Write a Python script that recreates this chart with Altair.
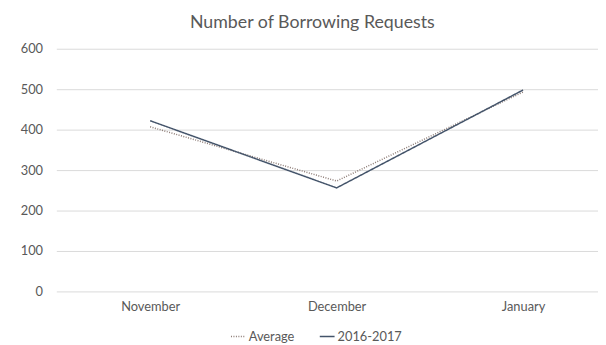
import altair as alt
import pandas as pd

months = ["November", "December", "January"]
series_names = ["Average", "2016-2017"]
average = [407, 273, 493]
season_2016_2017 = [422, 256, 498]
y_ticks = [0, 100, 200, 300, 400, 500, 600]

rows = []
for m, v in zip(months, average):
    rows.append({"month": m, "series": "Average", "value": v})
for m, v in zip(months, season_2016_2017):
    rows.append({"month": m, "series": "2016-2017", "value": v})
df = pd.DataFrame(rows)

FONT = "Lato"
TXT = "#595959"

chart = alt.Chart(df).mark_line(strokeWidth=1.5).encode(
    x=alt.X("month:N", sort=months,
            scale=alt.Scale(type="point", padding=0.4524, align=0.556),
            axis=alt.Axis(title=None, domain=False, ticks=False, labelAngle=0,
                          labelFont=FONT, labelFontSize=13, labelColor=TXT,
                          labelPadding=9, grid=False)),
    y=alt.Y("value:Q", scale=alt.Scale(domain=[0, 600]),
            axis=alt.Axis(title=None, values=y_ticks, domain=False, ticks=False,
                          labelFont=FONT, labelFontSize=13, labelColor=TXT,
                          labelPadding=14, gridColor="#D9D9D9", gridWidth=1)),
    color=alt.Color("series:N", sort=series_names,
                    scale=alt.Scale(domain=series_names, range=["#8C7B75", "#44546A"]),
                    legend=alt.Legend(title=None, orient="none", direction="horizontal",
                                      legendX=176, legendY=283,
                                      symbolType="stroke", symbolSize=225,
                                      symbolStrokeWidth=1.5,
                                      labelFont=FONT, labelFontSize=13, labelColor=TXT,
                                      labelOffset=2, columnPadding=22)),
    strokeDash=alt.StrokeDash("series:N", sort=series_names,
                              scale=alt.Scale(domain=series_names, range=[[1, 1.5], [1, 0]]),
                              legend=None),
).properties(
    width=549,
    height=246,
    padding={"left": 49, "top": 39, "right": 0, "bottom": 52},
    autosize=alt.AutoSizeParams(type="none"),
    title=alt.TitleParams("Number of Borrowing Requests", font=FONT, fontSize=18,
                          fontWeight="normal", color=TXT, anchor="middle", dx=-15,
                          offset=11),
).configure_view(stroke=None)

chart.save("out.html", embed_options={"renderer": "svg", "actions": False})
